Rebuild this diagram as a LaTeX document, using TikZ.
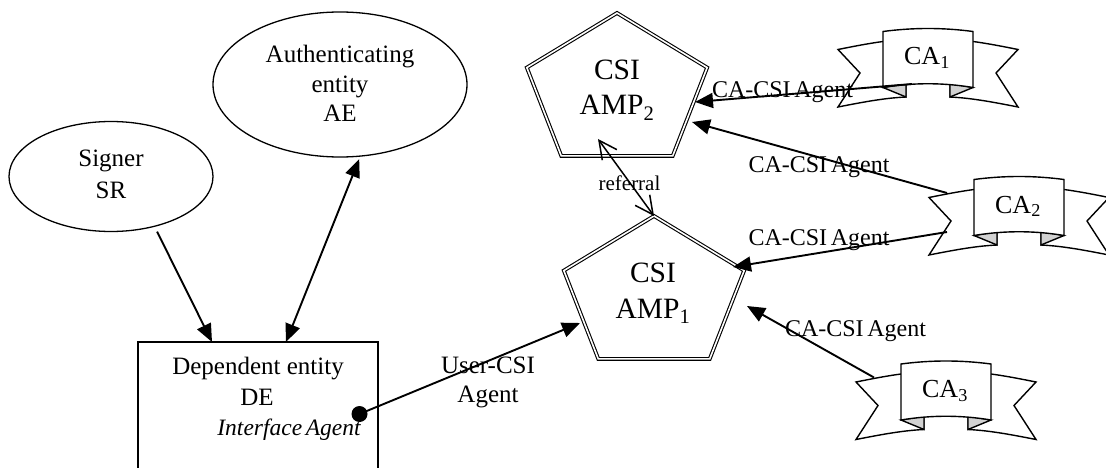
\documentclass[tikz,border=0pt]{standalone}
\usepackage{fontspec}
\setmainfont{Liberation Serif}
\usetikzlibrary{shapes.geometric,arrows.meta,calc}

\newcommand\csiagent{CA-CSI\hspace{0.15em}Agent}

\begin{document}
\begin{tikzpicture}[x=1pt,y=-1pt,
  lbl/.style={font=\fontsize{25}{30}\selectfont, inner sep=0pt, outer sep=0pt, anchor=base},
  agentlbl/.style={lbl, font=\fontsize{24}{28}\selectfont},
  amptext/.style={lbl, font=\fontsize{29.5}{35}\selectfont},
  entity/.style={draw, ellipse, line width=1.3pt, inner sep=0pt, outer sep=0pt},
  amp/.style={draw, regular polygon, regular polygon sides=5, minimum size=158pt,
    inner sep=0pt, outer sep=0pt, xscale=1.2, double, double distance=1.6pt,
    line width=1.1pt},
  conn/.style={line width=1.9pt, -{Triangle[length=18pt,width=15pt]}},
  biconn/.style={line width=1.9pt, {Triangle[length=18pt,width=15pt]}-{Triangle[length=18pt,width=15pt]}},
  refconn/.style={line width=1.5pt, {Straight Barb[length=18pt,width=18pt]}-{Straight Barb[length=18pt,width=18pt]}},
  bannerline/.style={line width=1.4pt, line join=miter},
  banner/.pic={
    % right tail
    \path[bannerline, draw, fill=white]
      (22,-20) -- (45,-18) .. controls (60,-16) and (75,-13) .. (90,-10)
      -- (68,13.5) -- (90,47.5)
      .. controls (67,43) and (44,38.5) .. (22,37.5) -- cycle;
    % left tail
    \path[bannerline, draw, fill=white]
      (-22,-20) -- (-45,-18) .. controls (-60,-16) and (-75,-13) .. (-90,-10)
      -- (-68,13.5) -- (-90,47.5)
      .. controls (-67,43) and (-44,38.5) .. (-22,37.5) -- cycle;
    % folds under the panel
    \path[bannerline, draw, fill=gray!35] (22,24) -- (22,37.5) -- (45,28) -- cycle;
    \path[bannerline, draw, fill=gray!35] (-22,24) -- (-22,37.5) -- (-45,28) -- cycle;
    % front panel
    \path[bannerline, draw, fill=white]
      (-45,-28) .. controls (-15,-32) and (15,-32) .. (45,-28)
      -- (45,28) .. controls (15,23) and (-15,23) .. (-45,28) -- cycle;
    \node[lbl, font=\fontsize{26}{30}\selectfont] (-text) at (-1,5.5) {#1};
    \coordinate (-nw) at (-72,-14.5);
    \coordinate (-sw) at (-72,24.5);
    \coordinate (-s) at (-16,24.5);
  }
]
\useasboundingbox (0,0) rectangle (1106,468);
\clip (0,0) rectangle (1106,468);

% entities
\node[entity, minimum width=204pt, minimum height=110pt] (sr) at (111,176.5) {};
\node[lbl] (srname) at (111,167) {Signer};
\node[lbl] (srabbr) at (111,198) {SR};

\node[entity, minimum width=254pt, minimum height=145pt] (ae) at (340,84.5) {};
\node[lbl] (aename1) at (340,63) {Authenticating};
\node[lbl] (aename2) at (340,92.5) {entity};
\node[lbl] (aeabbr) at (340,122) {AE};

\node[draw, line width=1.3pt, minimum width=240pt, minimum height=160pt,
  inner sep=0pt, outer sep=0pt, anchor=north west] (de) at (138,342) {};
\node[lbl] (dename) at (258,374) {Dependent entity};
\node[lbl] (deabbr) at (257,405) {DE};
\node[lbl, font=\fontsize{23.5}{28}\selectfont\itshape] (deagent) at (289,435)
  {Interface\hspace{0.15em}Agent};
\node[circle, fill=black, minimum size=16pt, inner sep=0pt] (dot) at (359.5,414) {};

% CSI access points
\begin{scope}[shift={(617,92)}]
  \node[amp] (amp2) at (0,0) {};
\end{scope}
\begin{scope}[shift={(654,295)}]
  \node[amp] (amp1) at (0,0) {};
\end{scope}
\node[amptext] (amp2a) at (617,80) {CSI};
\node[amptext] (amp2b) at (617,115) {AMP\textsubscript{2}};
\node[amptext] (amp1a) at (653,282) {CSI};
\node[amptext] (amp1b) at (653,318) {AMP\textsubscript{1}};

% certification authorities
\pic (ca1) at (928,59.5) {banner={CA\textsubscript{1}}};
\pic (ca2) at (1019,207.5) {banner={CA\textsubscript{2}}};
\pic (ca3) at (946,392) {banner={CA\textsubscript{3}}};

% connectors
\draw[conn] ($(sr.-50)+(4,5)$) -- ($(de.north west)+(74,0)$);
\draw[biconn] ($(ae.-75)+(0,3)$) -- ($(de.north west)+(148,0)$);
\draw[conn] (dot.center) -- ($(amp1.center)+(-74,28)$);
\draw[refconn] ($(amp2.center)+(-19,47)$) -- (amp1.corner 1);
\draw[conn] (ca1-s) -- ($(amp2.center)+(78,10)$);
\draw[conn] (ca2-nw) -- ($(amp2.center)+(75,30)$);
\draw[conn] (ca2-sw) -- ($(amp1.center)+(79,-28)$);
\draw[conn] (ca3-nw) -- ($(amp1.center)+(93,11)$);

% connector labels
\node[lbl] (ucsi1) at (488,373) {User-CSI};
\node[lbl] (ucsi2) at (488,402) {Agent};
\node[lbl, font=\fontsize{21}{25}\selectfont] (refl) at (629.5,190) {referral};
\node[agentlbl] (ag1) at (782.5,98) {\csiagent};
\node[agentlbl] (ag2) at (819,172) {\csiagent};
\node[agentlbl] (ag3) at (819,245) {\csiagent};
\node[agentlbl] (ag4) at (855.5,336) {\csiagent};
\end{tikzpicture}
\end{document}
